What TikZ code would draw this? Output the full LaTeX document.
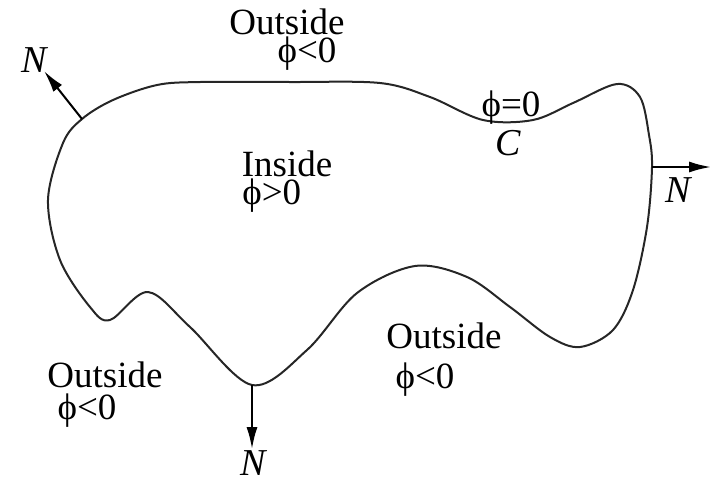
\documentclass[tikz,border=0pt]{standalone}
\usepackage{fontspec}
\setmainfont{Liberation Serif}
\usetikzlibrary{arrows.meta}
\begin{document}
\begin{tikzpicture}[x=0.5pt,y=-0.5pt,
  lbl/.style={inner sep=0pt,font=\fontsize{18.5}{20}\selectfont},
  nlbl/.style={inner sep=0pt,font=\fontsize{19}{21}\selectfont\itshape},
  normal/.style={line width=1pt,-{Latex[length=11pt,width=5.5pt]}},
  contour/.style={line width=1pt,black!85}]
\useasboundingbox (0,0) rectangle (712,483);
\draw[contour] plot[smooth cycle, tension=0.55] coordinates {
 (82,119) (113,100) (157,85) (200,82) (290,82) (380,83) (430,97) (483,120)
 (533,120) (573,103) (617,84) (640,97) (649,135) (652,167) (647,227) (633,290)
 (613,330) (580,347) (550,337) (510,307) (467,277) (415,266) (357,293) (307,350)
 (252,385) (190,327) (148,292) (110,320) (90,307) (60,260) (48,200) (63,143)};
\coordinate (pTL) at (82,119);
\coordinate (pR) at (652,167);
\coordinate (pB) at (252,385);
\coordinate (tTL) at (44,71);
\coordinate (tR) at (711,167);
\coordinate (tB) at (252,449);
\draw[normal] (pTL) -- (tTL);
\draw[normal] (pR) -- (tR);
\draw[normal] (pB) -- (tB);
\node[nlbl] (nTL) at (34,60) {N};
\node[nlbl] (nR) at (678,190) {N};
\node[nlbl] (nB) at (253,463) {N};
\node[lbl] (outT) at (287,22) {Outside};
\node[lbl] (phiT) at (307,54) {ϕ<0};
\node[lbl] (inside) at (287,164) {Inside};
\node[lbl,anchor=west] (phiI) at (242,196) {ϕ>0};
\node[lbl] (phiC) at (511,108) {ϕ=0};
\node[nlbl] (cC) at (508,143) {C};
\node[lbl] (outL) at (105,375) {Outside};
\node[lbl] (phiL) at (87,411) {ϕ<0};
\node[lbl] (outR) at (444,336) {Outside};
\node[lbl] (phiR) at (425,380) {ϕ<0};
\end{tikzpicture}
\end{document}
